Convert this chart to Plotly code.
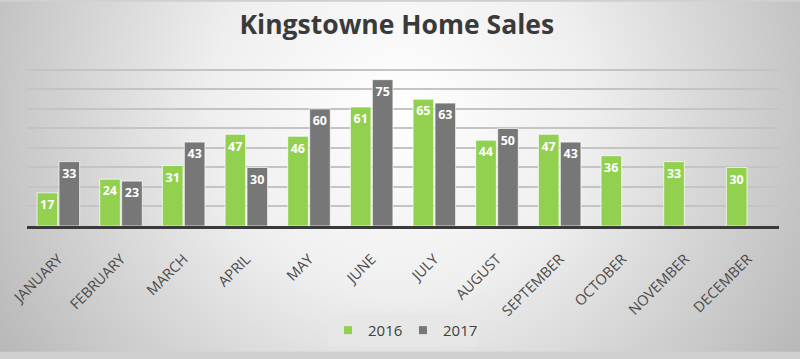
import base64
import plotly.graph_objects as go

months = ["JANUARY", "FEBRUARY", "MARCH", "APRIL", "MAY", "JUNE", "JULY",
          "AUGUST", "SEPTEMBER", "OCTOBER", "NOVEMBER", "DECEMBER"]
sales_2016 = [17, 24, 31, 47, 46, 61, 65, 44, 47, 36, 33, 30]
sales_2017 = [33, 23, 43, 30, 60, 75, 63, 50, 43, None, None, None]
series_names = ["2016", "2017"]

GREEN = "#92D050"
GRAY = "#777777"

W, H = 800, 359
YMAX = 82
ML, MR, MT, MB = 27, 21, 66, 129
PW, PH = W - ML - MR, H - MT - MB

svg = """<svg xmlns='http://www.w3.org/2000/svg' width='800' height='359' viewBox='0 0 800 359' preserveAspectRatio='none'>
<defs><radialGradient id='g' cx='400' cy='110' r='470' gradientUnits='userSpaceOnUse'>
<stop offset='0' stop-color='#ffffff'/><stop offset='0.4' stop-color='#efefef'/>
<stop offset='1' stop-color='#b8b8b8'/></radialGradient></defs>
<rect width='800' height='359' fill='url(#g)'/></svg>"""
bg = "data:image/svg+xml;base64," + base64.b64encode(svg.encode()).decode()

fig = go.Figure()
for name, vals, col in [(series_names[0], sales_2016, GREEN), (series_names[1], sales_2017, GRAY)]:
    fig.add_trace(go.Bar(
        x=months, y=vals, name=name, showlegend=False,
        marker=dict(color=col, line=dict(color="rgba(255,255,255,0.7)", width=1)),
        text=["" if v is None else v for v in vals],
        textposition="inside", insidetextanchor="end", textangle=0,
        textfont=dict(family="Open Sans", size=15, color="white", weight="bold"),
    ))
    # legend entry with a small square marker
    fig.add_trace(go.Scatter(
        x=[None], y=[None], mode="markers", name=name,
        marker=dict(symbol="square", size=8, color=col),
    ))

fig.update_layout(
    width=W, height=H,
    margin=dict(l=ML, r=MR, t=MT, b=MB),
    paper_bgcolor="#d0d0d0",
    plot_bgcolor="rgba(0,0,0,0)",
    images=[dict(source=bg, xref="paper", yref="paper", x=-ML / PW, y=1 + MT / PH,
                 sizex=W / PW, sizey=H / PH, xanchor="left", yanchor="top",
                 sizing="stretch", layer="below")],
    title=dict(text="<b>Kingstowne Home Sales</b>", x=0.496, xref="container", xanchor="center",
               y=0.93, yref="container", yanchor="middle",
               font=dict(family="Open Sans", size=26.5, color="#3a3a3a")),
    barmode="group", bargap=0.3, bargroupgap=0.06,
    uniformtext=dict(minsize=8, mode="show"),
    xaxis=dict(tickangle=-45, tickfont=dict(family="Open Sans", size=14.5, color="#4a4a4a"),
               showline=True, linecolor="#3a3a3a", linewidth=3, ticks="",
               ticklabelstandoff=16,
               showgrid=False, automargin=False),
    yaxis=dict(range=[0, YMAX], dtick=10, showticklabels=False, showgrid=True,
               gridcolor="#c4c4c4", gridwidth=1.5, zeroline=False, automargin=False),
    legend=dict(orientation="h", x=0.5, xanchor="center", y=(230 - 337) / PH, yanchor="middle",
                bgcolor="rgba(230,230,230,0.85)",
                font=dict(family="Open Sans", size=15, color="#404040"),
                itemwidth=30, tracegroupgap=0, entrywidth=30),
    showlegend=True,
)

fig.write_html("out.html", config={"displayModeBar": False},
               post_script="document.body.style.margin='0';document.body.style.overflow='hidden';")
